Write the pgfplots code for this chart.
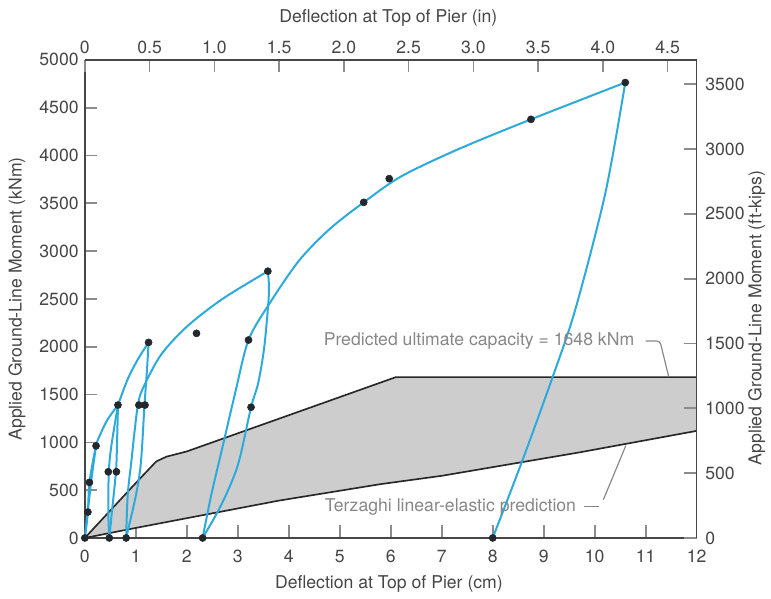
\documentclass[border=0pt]{standalone}
\usepackage{fontspec}
\setmainfont{TeX Gyre Heros}
\usepackage{pgfplots}
\pgfplotsset{compat=1.18}
\definecolor{cblue}{RGB}{45,170,220}
\definecolor{dotc}{RGB}{35,40,45}
\definecolor{axc}{RGB}{70,70,70}
\definecolor{txtc}{RGB}{70,70,70}
\definecolor{annc}{RGB}{135,135,135}
\definecolor{fillc}{RGB}{205,205,205}
\definecolor{bndc}{RGB}{40,40,40}
\pgfplotsset{
 common/.style={scale only axis, width=367.8pt, height=287.4pt, tick align=inside,
   major tick length=7.5pt, major tick style={black!45,line width=1pt},
   axis line style={axc,line width=0.9pt},
   /pgf/number format/assume math mode=true, /pgf/number format/1000 sep={},
   tick label style={txtc}, label style={txtc},
   at={(0,0)}, anchor=south west},
 blue/.style={cblue, line width=1.2pt, smooth, tension=0.5, no marks},
}
\begin{document}
\fontsize{10.6}{12.7}\selectfont
\begin{tikzpicture}
\path (-51pt,-31.8pt) rectangle (411.6pt,323.4pt);
\begin{axis}[common, xmin=0, xmax=12, ymin=0, ymax=5000,
  axis x line*=bottom, axis y line*=left, clip=false,
  xtick={0,1,2,3,4,5,6,7,8,9,10,11,12},
  ytick={0,500,1000,1500,2000,2500,3000,3500,4000,4500,5000},
  xticklabel style={yshift=-3.5pt},
  xlabel={Deflection at Top of Pier (cm)},
  ylabel={Applied Ground-Line Moment (kNm)},
  xlabel style={at={(axis description cs:0.497,-0.097)},anchor=center},
  ylabel style={at={(axis description cs:-0.111,0.5)},anchor=center}]
% shaded prediction band
\addplot[fill=fillc, draw=none] coordinates {
 (0,0) (1.0,575) (1.4,800) (1.6,850) (2.0,905) (3.78,1242) (6.1,1682) (12,1682)
 (12,1120) (9.7,895) (7.0,650) (5.8,563) (3.8,390) (1.0,105) (0,0)} -- cycle;
\addplot[bndc, line width=1pt, no marks] coordinates {
 (0,0) (1.0,575) (1.4,800) (1.6,850) (2.0,905) (3.78,1242) (6.1,1682) (12,1682)};
\addplot[bndc, line width=1pt, no marks] coordinates {
 (0,0) (1.0,105) (3.8,390) (5.8,563) (7.0,650) (9.7,895) (12,1120)};
% load cycles
\addplot[blue] coordinates {(0,0) (0.06,271) (0.09,581) (0.22,963) (0.32,1103) (0.45,1242) (0.65,1390)};
\addplot[blue] coordinates {(0.22,963) (0.13,616) (0.03,150) (0,0)};
\addplot[blue] coordinates {(0.65,1390) (0.63,963) (0.61,692) (0.53,268) (0.48,0)};
\addplot[blue] coordinates {(0.48,0) (0.46,271) (0.47,692) (0.52,963) (0.65,1390)};
\addplot[blue] coordinates {(0.65,1390) (0.84,1660) (1.04,1868) (1.25,2045)};
\addplot[blue] coordinates {(1.25,2045) (1.22,1765) (1.17,1390) (1.10,790) (1.0,441) (0.81,0)};
\addplot[blue] coordinates {(0.81,0) (0.84,441) (0.91,790) (1.04,1390) (1.17,1600) (1.5,1920) (2.0,2210) (2.7,2500) (3.59,2790)};
\addplot[blue] coordinates {(3.59,2790) (3.61,2550) (3.52,2000) (3.40,1620) (3.26,1367) (3.0,760) (2.67,340) (2.31,0)};
\addplot[blue] coordinates {(2.31,0) (2.48,450) (2.7,950) (2.95,1520) (3.21,2070) (3.62,2450) (4.2,2900) (4.8,3230) (5.47,3510) (6.2,3780) (7.3,4060) (8.75,4378) (10.6,4763)};
\addplot[blue] coordinates {(10.6,4763) (10.21,3609) (9.62,2390) (9.16,1660) (8.58,807) (8.0,0)};
% measured points
\addplot[only marks, mark=*, mark size=2.1pt, dotc] coordinates {
 (0,0) (0.06,271) (0.09,581) (0.22,963) (0.46,692) (0.62,692) (0.65,1390)
 (0.48,0) (0.81,0) (1.06,1390) (1.18,1390) (1.25,2045) (2.19,2140) (3.21,2070)
 (3.26,1367) (3.59,2790) (2.31,0) (5.47,3510) (5.97,3758) (8.75,4378) (10.6,4763) (8.0,0)};
% annotations
\node[anchor=west, annc, inner sep=0pt] at (axis cs:4.68,2065) {Predicted ultimate capacity = 1648 kNm};
\draw[annc, line width=0.7pt, rounded corners=2pt] (axis cs:11.0,2060) -- (axis cs:11.28,2060) -- (axis cs:11.45,1690);
\node[anchor=west, annc, inner sep=0pt] at (axis cs:4.70,325) {Terzaghi linear-elastic prediction};
\draw[annc, line width=0.7pt] (axis cs:9.8,325) -- (axis cs:10.08,325);
\draw[annc, line width=0.7pt] (axis cs:10.17,400) -- (axis cs:10.61,965);
\end{axis}
\begin{axis}[common, xmin=0, xmax=4.724409, ymin=0, ymax=3687.8,
  axis x line*=top, axis y line*=right,
  xtick={0,0.5,1,1.5,2,2.5,3,3.5,4,4.5},
  xticklabels={0,0.5,1.0,1.5,2.0,2.5,3.0,3.5,4.0,4.5},
  ytick={0,500,1000,1500,2000,2500,3000,3500},
  yticklabel style={xshift=1.5pt},
  xlabel={Deflection at Top of Pier (in)},
  ylabel={Applied Ground-Line Moment (ft-kips)},
  xlabel style={at={(axis description cs:0.496,1.088)},anchor=center},
  ylabel style={at={(axis description cs:1.098,0.46)},anchor=center}]
\end{axis}
\end{tikzpicture}
\end{document}
